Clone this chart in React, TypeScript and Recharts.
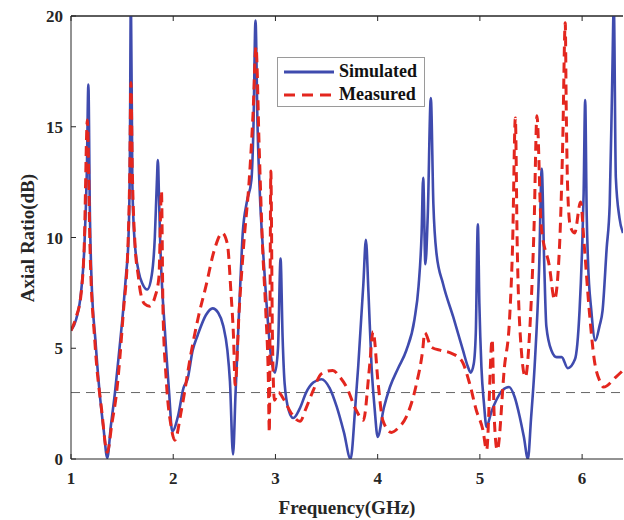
import React from "react";
import {
  LineChart,
  Line,
  XAxis,
  YAxis,
  ReferenceLine,
} from "recharts";

// frequency (GHz) / axial ratio (dB)
const simFreq = [
  1.0, 1.05, 1.1, 1.13, 1.155, 1.17, 1.185, 1.2, 1.24, 1.28, 1.32, 1.355, 1.39, 1.43, 1.47, 1.51,
  1.54, 1.56, 1.575, 1.586, 1.6, 1.62, 1.66, 1.7, 1.746, 1.79, 1.82, 1.84, 1.85, 1.86, 1.87, 1.92,
  1.96, 1.99, 2.05, 2.1, 2.14, 2.19, 2.24, 2.32, 2.385, 2.44, 2.49, 2.53, 2.555, 2.585, 2.61, 2.635,
  2.66, 2.68, 2.72, 2.765, 2.785, 2.805, 2.825, 2.85, 2.88, 2.91, 2.96, 2.995, 3.025, 3.05, 3.07,
  3.09, 3.13, 3.175, 3.24, 3.3, 3.37, 3.45, 3.53, 3.6, 3.67, 3.735, 3.78, 3.81, 3.86, 3.885, 3.91,
  3.94, 3.97, 4.0, 4.06, 4.12, 4.2, 4.28, 4.36, 4.4, 4.43, 4.445, 4.467, 4.49, 4.52, 4.545, 4.575,
  4.64, 4.74, 4.835, 4.88, 4.91, 4.94, 4.96, 4.98, 4.995, 5.015, 5.04, 5.065, 5.11, 5.16, 5.22,
  5.285, 5.34, 5.39, 5.43, 5.47, 5.5, 5.535, 5.58, 5.605, 5.63, 5.65, 5.7, 5.75, 5.8, 5.86, 5.93,
  5.975, 6.0, 6.015, 6.03, 6.045, 6.057, 6.09, 6.13, 6.17, 6.2, 6.24, 6.27, 6.295, 6.31, 6.33,
  6.365, 6.4,
];
const simAR = [
  5.8, 6.3, 7.6, 9.5, 13, 16.9, 11, 8.2, 5.3, 3.0, 1.3, 0.05, 1.5, 3.0, 4.8, 6.7,
  8.4, 9.7, 13, 21, 12.5, 10.0, 8.5, 7.9, 7.65, 8.3, 10, 12.5, 13.5, 12, 10.2, 5.7,
  3.0, 1.25, 2.0, 3.2, 3.6, 4.9, 5.6, 6.5, 6.8, 6.6, 6.0, 4.9, 3.5, 0.2, 3.0, 5.7,
  8.3, 10.2, 11.6, 12.6, 15, 19.8, 15, 11.7, 9.3, 7.2, 4.5, 3.9, 5, 9.05, 5.5,
  3.4, 2.2, 1.85, 2.3, 3.0, 3.45, 3.6, 3.2, 2.35, 1.2, 0.0, 2.3, 4.2, 7.9, 9.9, 7.5,
  4.2, 2.3, 1.0, 2.3, 3.25, 4.1, 4.9, 6.3, 7.8, 10.2, 12.7, 8.8, 11, 16.3, 11.5, 9.3,
  7.9, 6.4, 4.9, 4.2, 3.9, 4.3, 5.7, 10.6, 7, 4.15, 2.5, 1.45, 2.1, 2.65, 3.1,
  3.25, 2.8, 1.9, 1.0, 0.0, 1.8, 4.15, 8.7, 13.1, 8.7, 6.0, 4.9, 4.6, 4.6, 4.1, 4.5,
  6.7, 9.5, 12, 16.2, 11, 9.0, 6.7, 5.35, 6.0, 6.7, 9.5, 11.5, 17.2, 20.5, 12.7,
  10.9, 10.2,
];

const measFreq = [
  1.0, 1.05, 1.1, 1.13, 1.16, 1.185, 1.235, 1.3, 1.355, 1.4, 1.446, 1.51, 1.56, 1.575, 1.586, 1.6,
  1.626, 1.66, 1.67, 1.72, 1.77, 1.82, 1.86, 1.885, 1.9, 1.93, 1.98, 2.015, 2.08, 2.175, 2.25, 2.32,
  2.4, 2.48, 2.53, 2.565, 2.59, 2.606, 2.645, 2.69, 2.745, 2.78, 2.81, 2.84, 2.873, 2.905, 2.93,
  2.94, 2.955, 2.97, 2.99, 3.03, 3.08, 3.15, 3.24, 3.3, 3.37, 3.45, 3.56, 3.63, 3.695, 3.79, 3.86,
  3.92, 3.955, 4.005, 4.05, 4.135, 4.2, 4.28, 4.38, 4.44, 4.46, 4.525, 4.62, 4.705, 4.82, 4.9,
  4.965, 5.03, 5.066, 5.12, 5.14, 5.17, 5.24, 5.29, 5.32, 5.347, 5.365, 5.39, 5.445, 5.49, 5.53,
  5.558, 5.6, 5.68, 5.73, 5.78, 5.81, 5.835, 5.845, 5.86, 5.885, 5.927, 5.985, 6.02, 6.07, 6.12,
  6.17, 6.21, 6.33, 6.4,
];
const measAR = [
  5.8, 6.4, 7.5, 9.7, 15.3, 9.7, 5.2, 2.2, 0.3, 1.6, 3.0, 6.5, 10, 13, 17.0, 13,
  9.7, 8.2, 7.8, 7.0, 6.9, 7.3, 8.2, 12.1, 6.7, 3.7, 1.45, 0.85, 2.2, 4.8, 6.5, 7.8,
  9.4, 10.2, 9.7, 7.5, 5.5, 3.35, 6.7, 9.7, 12.7, 15.5, 18.6, 14.2, 9.7, 6.7, 3.7,
  1.2, 13.0, 5.7, 2.65, 3.0, 2.7, 2.1, 1.7, 2.3, 3.1, 3.85, 4.0, 3.7, 3.25, 2.2, 1.75,
  4.15, 5.75, 3.4, 1.75, 1.2, 1.4, 1.9, 3.4, 4.9, 5.7, 5.05, 4.9, 4.8, 4.45, 3.4,
  2.2, 1.3, 0.4, 5.4, 1.9, 0.4, 4.15, 6.3, 9.7, 15.4, 9.7, 6.0, 3.7, 6.0, 10.5,
  15.5, 10.5, 8.7, 7.2, 9.7, 14.2, 19.7, 15.7, 12.0, 10.5, 10.2, 11.6, 9.7, 6.7, 4.45,
  3.55, 3.25, 3.7, 4.0,
];

const xTicks = [1, 2, 3, 4, 5, 6];
const yTicks = [0, 5, 10, 15, 20];

const simulated = simFreq.map((f, i) => ({ f, v: simAR[i] }));
const measured = measFreq.map((f, i) => ({ f, v: measAR[i] }));

const BLUE = "#3F4BAE";
const RED = "#E3261E";
const AXIS = "#262626";
const FONT = "'Liberation Serif', 'Times New Roman', serif";
const tickStyle = { fontSize: 17, fontWeight: 700, fill: AXIS, fontFamily: FONT };

function LegendBox() {
  const row = (dash: string | undefined, color: string, label: string) => (
    <div style={{ display: "flex", alignItems: "center", height: 23 }}>
      <svg width={56} height={10}>
        <line x1={3} y1={5} x2={53} y2={5} stroke={color} strokeWidth={3} strokeDasharray={dash} />
      </svg>
      <span style={{ fontFamily: FONT, fontWeight: 700, fontSize: 18, color: "#111", marginLeft: 2 }}>
        {label}
      </span>
    </div>
  );
  return (
    <div
      style={{
        position: "absolute",
        left: 277,
        top: 57,
        border: "1px solid #9a9a9a",
        background: "#fff",
        width: 148,
        height: 50,
        padding: "2px 0 0 3px",
        boxSizing: "border-box",
      }}
    >
      {row(undefined, BLUE, "Simulated")}
      {row("11 7", RED, "Measured")}
    </div>
  );
}

// top axis keeps its inward tick marks but shows no labels
const noTick = () => <g />;

export default function App() {
  return (
    <div style={{ position: "absolute", left: 0, top: 0, width: 624, height: 520, background: "#fff" }}>
      <LineChart width={624} height={520} margin={{ top: 1, right: 1, bottom: 0, left: 0 }}>
        <XAxis
          dataKey="f"
          type="number"
          domain={[1, 6.4]}
          ticks={xTicks}
          allowDataOverflow
          height={61}
          tickSize={-5}
          tickMargin={18}
          tick={tickStyle}
          stroke={AXIS}
          label={{
            value: "Frequency(GHz)",
            position: "insideBottom",
            offset: 6,
            style: { fontSize: 19, fontWeight: 700, fill: AXIS, fontFamily: FONT },
          }}
        />
        <XAxis
          xAxisId="top"
          orientation="top"
          dataKey="f"
          type="number"
          domain={[1, 6.4]}
          ticks={xTicks}
          allowDataOverflow
          height={15}
          tickSize={-5}
          tick={noTick}
          stroke={AXIS}
        />
        <YAxis
          type="number"
          domain={[0, 20]}
          ticks={yTicks}
          allowDataOverflow
          width={71}
          tickSize={-5}
          tickMargin={13}
          tick={tickStyle}
          stroke={AXIS}
          label={{
            content: () => (
              <text
                x={27}
                y={238}
                transform="rotate(-90 27 238)"
                textAnchor="middle"
                dominantBaseline="central"
                style={{ fontSize: 19, fontWeight: 700, fill: AXIS, fontFamily: FONT }}
              >
                Axial Ratio(dB)
              </text>
            ),
          }}
        />
        <ReferenceLine y={20} stroke={AXIS} strokeWidth={1} />
        <ReferenceLine y={3} stroke="#666" strokeWidth={1} strokeDasharray="9 6" />
        <Line
          data={simulated}
          dataKey="v"
          type="monotone"
          stroke={BLUE}
          strokeWidth={2.6}
          dot={false}
          isAnimationActive={false}
          name="Simulated"
        />
        <Line
          data={measured}
          dataKey="v"
          type="monotone"
          stroke={RED}
          strokeWidth={3}
          strokeDasharray="10 6"
          dot={false}
          isAnimationActive={false}
          name="Measured"
        />
      </LineChart>
      <LegendBox />
    </div>
  );
}
